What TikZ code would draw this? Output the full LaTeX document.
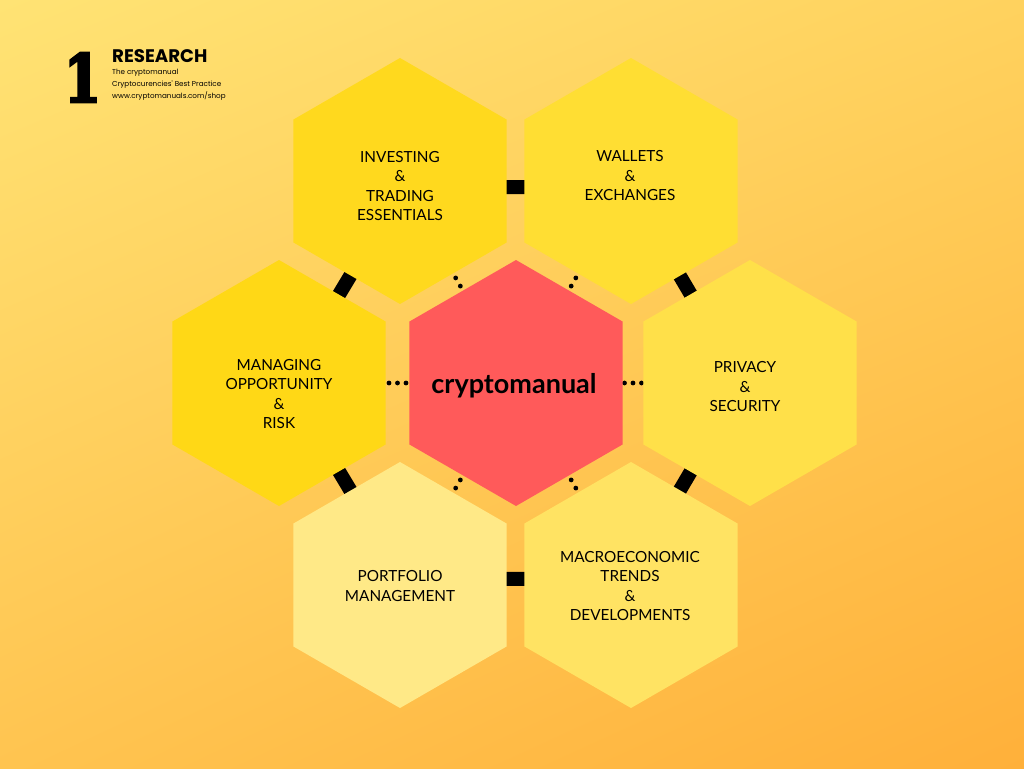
\documentclass[tikz,border=0pt]{standalone}
\usepackage{fontspec}
\setmainfont{Lato}
\newfontfamily\popfont{Poppins}
\newfontfamily\numfont{DejaVu Serif}[UprightFont={* Bold}, FakeStretch=0.8, FakeBold=4]
\usetikzlibrary{shapes.geometric,calc,positioning,shadings}
\pgfdeclarelayer{back}
\pgfdeclarelayer{mid}
\pgfsetlayers{back,mid,main}

\definecolor{hexA}{HTML}{FFD91E}
\definecolor{hexB}{HTML}{FFDE33}
\definecolor{hexC}{HTML}{FFD816}
\definecolor{hexD}{HTML}{FFE049}
\definecolor{hexE}{HTML}{FFE987}
\definecolor{hexF}{HTML}{FFE363}
\definecolor{core}{HTML}{FF5A5A}
\definecolor{bgUL}{HTML}{FFE374}
\definecolor{bgUR}{HTML}{FFD25E}
\definecolor{bgLL}{HTML}{FFC450}
\definecolor{bgLR}{HTML}{FFB03A}

\begin{document}
\begin{tikzpicture}[x=1pt,y=-1pt,
    hx/.style={regular polygon, regular polygon sides=6, shape border rotate=30,
      minimum size=246pt, inner sep=0pt},
    lbl/.style={font=\fontsize{15.3}{19.5}\selectfont, align=center, inner sep=0pt},
    bar/.style={line width=14pt},
    dt/.style={fill=black},
  ]
  \useasboundingbox (0,0) rectangle (1024,768);
  \begin{pgfonlayer}{back}
    \shade[upper left=bgUL, upper right=bgUR, lower left=bgLL, lower right=bgLR]
      (0,0) rectangle (1024,768);
  \end{pgfonlayer}

  % hexagons
  \node[hx, fill=core] (c)  at (516,383) {};
  \node[hx, fill=hexA] (tl) at (400,181) {};
  \node[hx, fill=hexB] (tr) at (631,181) {};
  \node[hx, fill=hexC] (l)  at (279,383) {};
  \node[hx, fill=hexD] (r)  at (750,383) {};
  \node[hx, fill=hexE] (bl) at (400,585) {};
  \node[hx, fill=hexF] (br) at (631,585) {};

  % texts
  \node[font=\bfseries\fontsize{27}{30}\selectfont, inner sep=0pt] (ct) at (514,386) {cryptomanual};
  \node[lbl] (tlt) at (400,186) {INVESTING\\\&\\TRADING\\ESSENTIALS};
  \node[lbl] (trt) at (630,176) {WALLETS\\\&\\EXCHANGES};
  \node[lbl] (lt)  at (279,394) {MANAGING\\OPPORTUNITY\\\&\\RISK};
  \node[lbl] (rt)  at (745,387) {PRIVACY\\\&\\SECURITY};
  \node[lbl] (blt) at (400,586) {PORTFOLIO\\MANAGEMENT};
  \node[lbl] (brt) at (630,586) {MACROECONOMIC\\TRENDS\\\&\\DEVELOPMENTS};

  % connectors
  \begin{pgfonlayer}{mid}
    \draw[bar] ($(tl)!7pt!(c)$) -- ($(tr)!7pt!(c)$);
    \draw[bar] ($(tl)!7pt!(c)$) -- ($(l)!7pt!(c)$);
    \draw[bar] ($(tr)!7pt!(c)$) -- ($(r)!7pt!(c)$);
    \draw[bar] ($(l)!7pt!(c)$) -- ($(bl)!7pt!(c)$);
    \draw[bar] ($(r)!7pt!(c)$) -- ($(br)!7pt!(c)$);
    \draw[bar] ($(bl)!7pt!(c)$) -- ($(br)!7pt!(c)$);
    \foreach \n in {l,r}
      \foreach \k in {-8.5,0,8.5}
        \fill[dt] ($(c)!0.5!(\n)!\k pt!(\n)$) circle[radius=2.4pt];
    \foreach \n in {tl,tr,bl,br}
      \foreach \k in {-4.7,4.7}
        \fill[dt] ($(c)!0.5!(\n)!\k pt!(\n)$) circle[radius=2.4pt];
  \end{pgfonlayer}

  % logo
  \node[font=\numfont\fontsize{66}{66}\selectfont, inner sep=0pt, anchor=base west] (one) at (64,102) {1};
  \node[font=\popfont\bfseries\fontsize{18.2}{18.2}\selectfont, inner sep=0pt, anchor=base west] (res) at (112,63) {RESEARCH};
  \node[font=\popfont\fontsize{7.2}{11.8}\selectfont, align=left, inner sep=0pt, anchor=north west] (sub) at (112,69)
    {The cryptomanual\\Cryptocurencies' Best Practice\\www.cryptomanuals.com/shop};
\end{tikzpicture}
\end{document}
